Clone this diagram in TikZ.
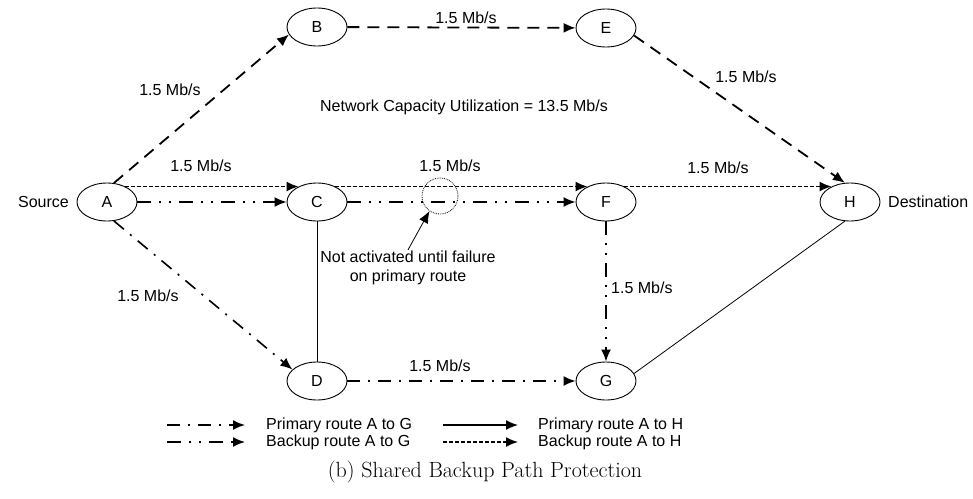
\documentclass[tikz,border=0pt]{standalone}
\usepackage{fontspec}
\newfontfamily\arialfont{Liberation Sans}
\usetikzlibrary{shapes.geometric,arrows.meta}

\begin{document}
\begin{tikzpicture}
    [
      x=1pt, y=-1pt,
      site/.style={draw, ellipse, minimum width=60pt, minimum height=38pt, inner sep=0pt, line width=0.9pt},
      txt/.style={font=\arialfont\fontsize{16}{19}\selectfont, inner sep=1pt},
      tip/.style={-{Latex[length=12pt,width=10pt]}},
      primaryH/.style={tip, line width=1.8pt, dash pattern=on 12pt off 8pt},
      backupH/.style={tip, line width=1.6pt, dash pattern=on 4pt off 2pt},
      primaryG/.style={tip, line width=1.6pt, dash pattern=on 13pt off 8pt on 2pt off 8pt},
      backupG/.style={tip, line width=1.6pt, dash pattern=on 14pt off 8pt on 2pt off 8pt on 2pt off 8pt},
      plain/.style={line width=0.8pt},
    ]
    \useasboundingbox (0,0) rectangle (973,498);
    %
    \node [site,txt] (A) at (107,202) {A};
    \node [site,txt] (B) at (317,27)  {B};
    \node [site,txt] (C) at (317,202) {C};
    \node [site,txt] (D) at (317,381) {D};
    \node [site,txt] (E) at (606,28)  {E};
    \node [site,txt] (F) at (606,202) {F};
    \node [site,txt] (G) at (606,381) {G};
    \node [site,txt] (H) at (850,202) {H};

    \node [txt,anchor=east] (src) at (70,202)  {Source};
    \node [txt,anchor=west] (dst) at (887,202) {Destination};
    \node [txt] (util) at (464,107) {Network Capacity Utilization = 13.5 Mb/s};

    % primary route A to H
    \draw [primaryH] (A.70) -- (B.195);
    \draw [primaryH] (B) -- (E);
    \draw [primaryH] (E.-15) -- (H.105);

    % backup route A to H
    \draw [backupH] (A.40) -- (C.140);
    \draw [backupH] (C.40) -- (F.140);
    \draw [backupH] (F.40) -- (H.140);

    % backup route A to G
    \draw [backupG] (A) -- (C);
    \draw [backupG] (C) -- (F);
    \draw [backupG] (F) -- (G);

    % primary route A to G
    \draw [primaryG] (A.-70) -- (D.155);
    \draw [primaryG] (D) -- (G);

    % plain links
    \draw [plain] (C) -- (D);
    \draw [plain] (G.15) -- (H.-105);

    % rates
    \node [txt] (rAB) at (170,90)  {1.5 Mb/s};
    \node [txt] (rBE) at (466,18)  {1.5 Mb/s};
    \node [txt] (rEH) at (746,77)  {1.5 Mb/s};
    \node [txt] (rAC) at (201,166) {1.5 Mb/s};
    \node [txt] (rCF) at (450,166) {1.5 Mb/s};
    \node [txt] (rFH) at (718,168) {1.5 Mb/s};
    \node [txt] (rAD) at (148,296) {1.5 Mb/s};
    \node [txt] (rDG) at (440,366) {1.5 Mb/s};
    \node [txt,anchor=west] (rFG) at (610,288) {1.5 Mb/s};

    % failure point
    \node [draw,circle,densely dotted,line width=0.8pt,minimum size=36pt,inner sep=0pt] (cut) at (440,196) {};
    \node [txt,align=center] (note) at (408,268) {Not activated until failure\\on primary route};
    \draw [tip,line width=0.8pt] (note.north) -- (cut.235);

    % legend
    \coordinate (k1) at (167,425); \coordinate (k1e) at (245,425);
    \coordinate (k2) at (167,442); \coordinate (k2e) at (245,442);
    \coordinate (k3) at (443,425); \coordinate (k3e) at (518,425);
    \coordinate (k4) at (443,442); \coordinate (k4e) at (518,442);
    \draw [primaryG] (k1) -- (k1e);
    \draw [backupG] (k2) -- (k2e);
    \draw [tip,line width=1.5pt] (k3) -- (k3e);
    \draw [backupH] (k4) -- (k4e);
    \node [txt,anchor=west] (t1) at (265,425) {Primary route A to G};
    \node [txt,anchor=west] (t2) at (265,442) {Backup route A to G};
    \node [txt,anchor=west] (t3) at (537,425) {Primary route A to H};
    \node [txt,anchor=west] (t4) at (537,442) {Backup route A to H};

    \node [font=\fontsize{22}{26}\selectfont] (cap) at (485,472) {(b) Shared Backup Path Protection};
  \end{tikzpicture}
\end{document}
